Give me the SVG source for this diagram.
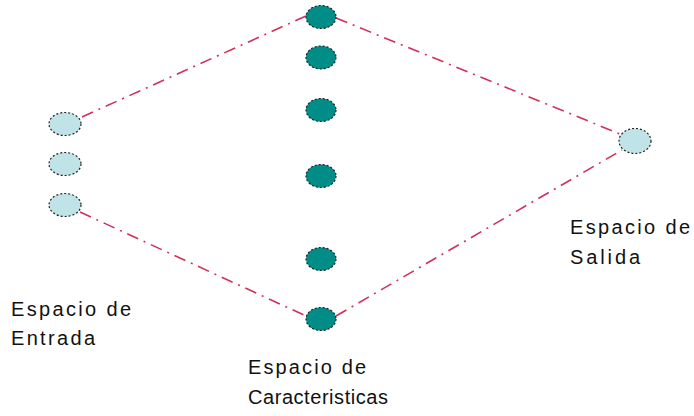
<svg xmlns="http://www.w3.org/2000/svg" width="694" height="416" viewBox="0 0 694 416">
<style>
.in{fill:#bfe3e6;stroke:#222;stroke-width:1.2;stroke-dasharray:2 2}
.hid{fill:#008c87;stroke:#222;stroke-width:1.2;stroke-dasharray:2 2}
.ln{stroke:#d0305a;stroke-width:1.6;fill:none;stroke-dasharray:12 6 2 6}
.t{font-family:"Liberation Sans",Arial,sans-serif;font-size:20px;fill:#111}
</style>
<rect width="694" height="416" fill="#fff"/>
<g id="connectors">
<line class="ln" x1="82" y1="117" x2="306" y2="16"/>
<line class="ln" x1="336" y1="18" x2="620" y2="134"/>
<line class="ln" x1="80" y1="212" x2="306" y2="316"/>
<line class="ln" x1="336" y1="316" x2="622" y2="150"/>
</g>
<g id="entrada1"><ellipse class="in" cx="65" cy="124" rx="16" ry="11.5"/></g>
<g id="entrada2"><ellipse class="in" cx="65" cy="164" rx="16" ry="11.5"/></g>
<g id="entrada3"><ellipse class="in" cx="65" cy="205" rx="16" ry="11.5"/></g>
<g id="car1"><ellipse class="hid" cx="321" cy="17" rx="15" ry="11.5"/></g>
<g id="car2"><ellipse class="hid" cx="321" cy="57.5" rx="15" ry="11.5"/></g>
<g id="car3"><ellipse class="hid" cx="321" cy="110" rx="15" ry="11.5"/></g>
<g id="car4"><ellipse class="hid" cx="321" cy="176" rx="15" ry="11.5"/></g>
<g id="car5"><ellipse class="hid" cx="321" cy="259" rx="15" ry="11.5"/></g>
<g id="car6"><ellipse class="hid" cx="321" cy="319" rx="15" ry="11.5"/></g>
<g id="salida"><ellipse class="in" cx="635" cy="141" rx="16" ry="12.5"/></g>
<g id="labels">
<text class="t" x="11" y="316" textLength="120" lengthAdjust="spacing">Espacio de</text>
<text class="t" x="11" y="345" textLength="84" lengthAdjust="spacing">Entrada</text>
<text class="t" x="248" y="374" textLength="118" lengthAdjust="spacing">Espacio de</text>
<text class="t" x="248" y="404" textLength="140" lengthAdjust="spacing">Caracteristicas</text>
<text class="t" x="570" y="234" textLength="120" lengthAdjust="spacing">Espacio de</text>
<text class="t" x="570" y="264" textLength="70" lengthAdjust="spacing">Salida</text>
</g>
</svg>
